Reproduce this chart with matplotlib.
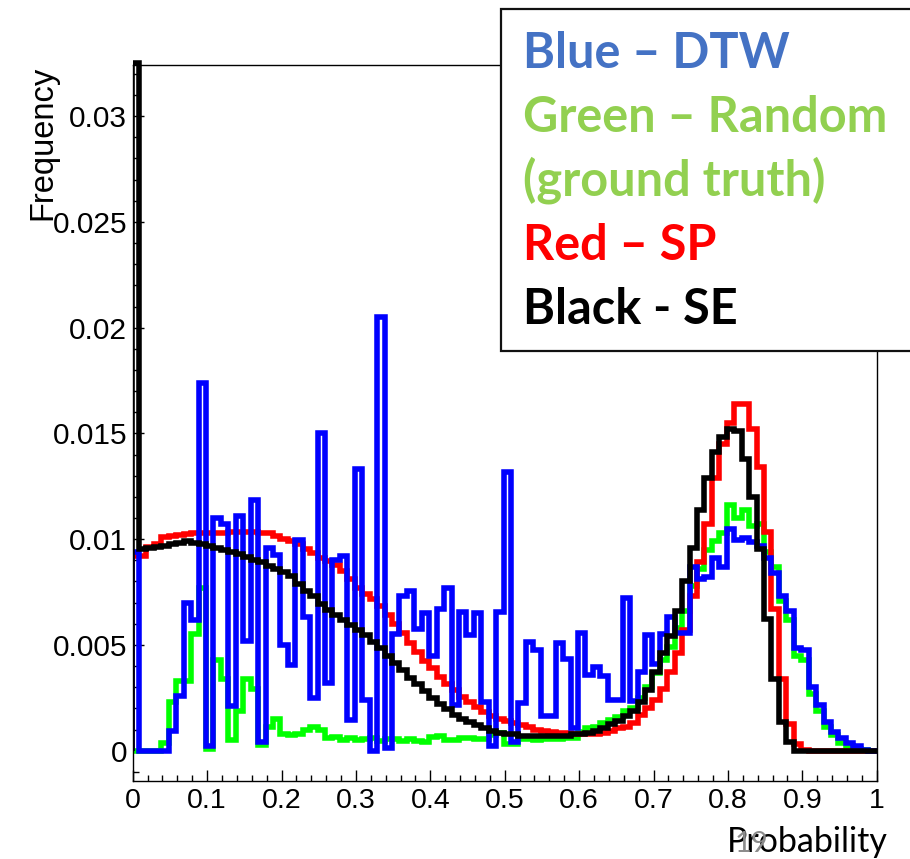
import numpy as np
import matplotlib
matplotlib.use("Agg")
import matplotlib.pyplot as plt
from matplotlib.patches import Rectangle
from matplotlib.ticker import FixedLocator, MultipleLocator

# bin contents, in units of 1e-3 (101 bins, 0.01 wide, first low edge at -0.0015)
blue = [9.4, 0, 0, 0, 0, 0.95, 2.6, 7.0, 6.2, 17.4,
        0.2, 11.0, 10.7, 2.1, 11.1, 5.2, 11.85, 0.4, 9.6, 9.25,
        5.0, 4.05, 9.95, 6.3, 2.5, 15.0, 3.2, 9.0, 9.2, 1.45,
        13.3, 2.4, 0.0, 20.5, 0.15, 5.5, 7.3, 7.55, 5.75, 6.5,
        4.5, 6.7, 7.7, 2.15, 6.55, 5.45, 6.5, 2.3, 0.2, 6.55,
        13.2, 0.4, 2.25, 5.15, 4.75, 1.65, 1.65, 5.1, 4.35, 1.05,
        5.55, 3.6, 3.95, 3.55, 2.4, 2.4, 7.2, 2.35, 3.7, 5.45,
        4.1, 5.5, 6.3, 5.55, 5.55, 8.7, 8.1, 8.2, 9.1, 8.7,
        10.5, 9.95, 10.05, 9.85, 9.7, 9.1, 8.4, 7.3, 6.6, 4.85,
        4.75, 3.0, 2.15, 1.35, 0.9, 0.58, 0.35, 0.2, 0.05, 0,
        0]
green = [0, 0, 0, 0, 0.35, 2.3, 3.3, 3.3, 5.5, 7.7,
         0.1, 4.3, 3.4, 0.5, 1.9, 3.4, 2.9, 0.25, 1.1, 1.5,
         0.8, 0.75, 0.8, 1.0, 1.1, 1.0, 0.6, 0.65, 0.5, 0.6,
         0.5, 0.55, 0.6, 0.45, 0.55, 0.55, 0.45, 0.55, 0.45, 0.4,
         0.65, 0.7, 0.5, 0.5, 0.6, 0.6, 0.55, 0.55, 0.75, 0.85,
         0.3, 0.3, 0.55, 0.55, 0.5, 0.55, 0.55, 0.55, 0.6, 0.6,
         0.9, 1.05, 1.1, 1.3, 1.45, 1.6, 1.9, 2.0, 2.5, 3.0,
         3.65, 4.3, 4.9, 5.8, 6.6, 7.8, 8.6, 9.5, 9.9, 10.3,
         11.6, 11.0, 11.4, 10.6, 10.7, 9.4, 8.7, 7.1, 6.2, 4.5,
         4.3, 2.7, 1.9, 1.1, 0.75, 0.35, 0.2, 0.1, 0.05, 0,
         0]
red = [9.2, 9.2, 9.65, 9.75, 10.1, 10.15, 10.2, 10.25, 10.3, 10.3,
       10.3, 10.3, 10.3, 10.35, 10.35, 10.35, 10.35, 10.3, 10.3, 10.15,
       10.0, 9.9, 9.75, 9.55, 9.35, 9.1, 8.95, 8.8, 8.5, 8.1,
       7.7, 7.4, 7.15, 6.85, 6.4, 6.0, 5.55, 5.1, 4.65, 4.25,
       3.9, 3.5, 3.15, 2.85, 2.55, 2.3, 2.05, 1.85, 1.65, 1.5,
       1.4, 1.3, 1.2, 1.1, 1.0, 0.95, 0.9, 0.85, 0.85, 0.8,
       0.8, 0.8, 0.8, 0.85, 0.95, 1.05, 1.1, 1.3, 1.7, 2.0,
       2.4, 2.9, 3.7, 4.6, 5.7, 7.3, 8.9, 10.7, 12.9, 14.5,
       15.5, 16.4, 16.4, 15.2, 13.4, 10.35, 6.7, 3.4, 1.25, 0.3,
       0.05, 0, 0, 0, 0, 0, 0, 0, 0, 0,
       0]
black = [32.5, 9.55, 9.6, 9.65, 9.7, 9.75, 9.8, 9.9, 9.8, 9.75,
         9.7, 9.6, 9.5, 9.4, 9.3, 9.15, 9.0, 8.9, 8.75, 8.6,
         8.45, 8.25, 7.9, 7.55, 7.3, 6.95, 6.65, 6.4, 6.2, 5.95,
         5.7, 5.45, 5.15, 4.85, 4.5, 4.15, 3.8, 3.45, 3.15, 2.8,
         2.5, 2.2, 1.95, 1.7, 1.5, 1.35, 1.2, 1.05, 0.95, 0.85,
         0.8, 0.8, 0.7, 0.7, 0.7, 0.7, 0.7, 0.7, 0.7, 0.8,
         0.8, 0.85, 0.95, 1.05, 1.25, 1.4, 1.65, 1.9, 2.3, 2.85,
         3.7, 4.6, 5.4, 6.6, 8.0, 9.6, 11.4, 12.9, 14.1, 14.85,
         15.2, 15.1, 13.8, 12.0, 9.55, 6.25, 3.4, 1.35, 0.4, 0,
         0, 0, 0, 0, 0, 0, 0, 0, 0, 0,
         0]

xticks = [0, 0.1, 0.2, 0.3, 0.4, 0.5, 0.6, 0.7, 0.8, 0.9, 1.0]
xtick_labels = ["0", "0.1", "0.2", "0.3", "0.4", "0.5", "0.6", "0.7", "0.8", "0.9", "1"]
yticks = [0, 0.005, 0.01, 0.015, 0.02, 0.025, 0.03]
ytick_labels = ["0", "0.005", "0.01", "0.015", "0.02", "0.025", "0.03"]

legend_lines = ["Blue \u2013 DTW", "Green \u2013 Random", "(ground truth)", "Red \u2013 SP", "Black - SE"]
legend_colors = ["#4472C4", "#92D050", "#92D050", "#FF0000", "#000000"]

bin_low = -0.0015
bin_width = 0.01

W, H = 910, 859
fig = plt.figure(figsize=(W / 100, H / 100), dpi=100)
ax = fig.add_axes([132.7 / W, 78 / H, 744 / W, 716 / H])

edges = bin_low + bin_width * np.arange(len(blue) + 1)
series = [(green, "#00ff00", 2), (red, "#ff0000", 3), (blue, "#0000ff", 4), (black, "#000000", 5)]
for vals, col, z in series:
    sp = ax.stairs(np.array(vals) * 1e-3, edges, baseline=0, color=col, lw=4, zorder=z)
    sp.set_joinstyle("miter")
    if col == "#000000":
        # let the clipped first bin poke slightly over the frame top
        sp.set_clip_path(Rectangle((0, 0), 1, 1.01, transform=ax.transAxes))

ax.set_xlim(0, 1)
ax.set_ylim(-0.001433, 0.03242)

ax.xaxis.set_major_locator(FixedLocator(xticks))
ax.set_xticklabels(xtick_labels)
ax.xaxis.set_minor_locator(MultipleLocator(0.02))
ax.yaxis.set_major_locator(FixedLocator(yticks))
ax.set_yticklabels(ytick_labels)
ax.yaxis.set_minor_locator(MultipleLocator(0.001))

ax.tick_params(which="both", direction="in", top=False, right=False, width=1, color="black")
ax.tick_params(which="major", length=8)
ax.tick_params(which="minor", length=4.3)
ax.tick_params(axis="x", labelsize=20.5, pad=5)
ax.tick_params(axis="y", labelsize=21.5, pad=4)
for lab in ax.get_xticklabels() + ax.get_yticklabels():
    lab.set_family("Liberation Sans")
for s in ax.spines.values():
    s.set_linewidth(1.0)

fig.text(43 / W, 1 - 66 / H, "Frequency", rotation=90, ha="center", va="top",
         fontsize=23.5, family="Liberation Sans")

fig.text(727 / W, 1 - 852 / H, "Probability", ha="left", va="baseline",
         fontsize=24.5, family="Lato")
fig.text(735 / W, 1 - 852 / H, "19", ha="left", va="baseline",
         fontsize=21, family="Lato", color="#8c8c8c")

# text box in the top right corner
box = Rectangle((501 / W, 1 - 351 / H), (420 - 1) / W, 342 / H, transform=fig.transFigure,
                facecolor="white", edgecolor="#111111", lw=1.6, zorder=10)
fig.patches.append(box)
for i, (txt, col) in enumerate(zip(legend_lines, legend_colors)):
    fig.text(523 / W, 1 - (68 + 64 * i) / H, txt, ha="left", va="baseline",
             fontsize=35, family="Lato", weight="bold", color=col, zorder=11)

fig.savefig("out.png", dpi=100)
